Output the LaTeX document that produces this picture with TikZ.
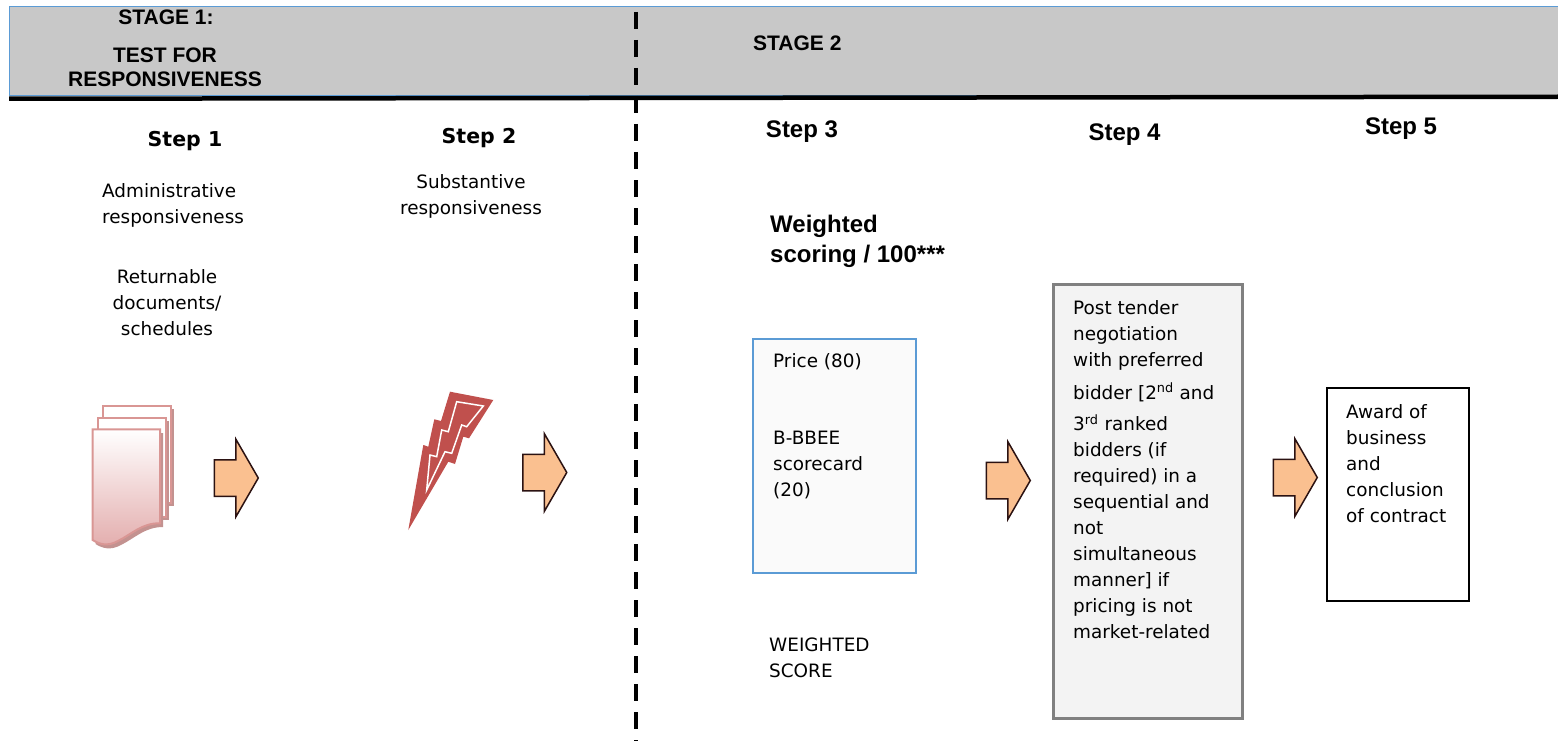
\documentclass[tikz,border=0pt]{standalone}
\usepackage{fontspec}
\setmainfont{Liberation Sans}
\newfontfamily\tahoma{DejaVu Sans}
\usetikzlibrary{shapes.arrows}
\definecolor{bandgray}{HTML}{C8C8C8}
\definecolor{bandblue}{HTML}{5B9BD5}
\definecolor{arrfill}{HTML}{FAC090}
\definecolor{arrdraw}{HTML}{2B1212}
\definecolor{boltred}{HTML}{C0504D}
\definecolor{docline}{HTML}{D99694}
\definecolor{docshadow}{HTML}{C39290}
\definecolor{docpink}{HTML}{E3ADAD}
\definecolor{boxgray}{HTML}{F3F3F3}
\definecolor{boxlight}{HTML}{FAFAFA}
\begin{document}
\begin{tikzpicture}[x=1pt,y=-1pt,
  hd/.style={font=\bfseries\fontsize{21}{24}\selectfont,align=center,inner sep=0pt},
  stepA/.style={font=\tahoma\bfseries\fontsize{20.5}{24}\selectfont,inner sep=0pt},
  stepB/.style={font=\bfseries\fontsize{24}{28}\selectfont,inner sep=0pt},
  txt/.style={font=\tahoma\fontsize{18.4}{26}\selectfont,inner sep=0pt},
  blk/.style={single arrow,draw=arrdraw,fill=arrfill,line width=1.5pt,minimum height=44pt,
    minimum width=0pt,single arrow head extend=20.5pt,single arrow head indent=0pt,
    single arrow tip angle=120,inner sep=0pt}]
\useasboundingbox (0,0) rectangle (1558,749);
% dải tiêu đề
\draw[fill=bandgray,draw=bandblue,line width=1pt] (9,7) rectangle (1562,96);
\fill (9,96.5) -- (1558,94.5) -- (1558,99) -- (9,101) -- cycle;
\coordinate (dtop) at (636,12);
\coordinate (dbot) at (636,741);
\draw[line width=3.5pt,dash pattern=on 17pt off 11pt] (dtop) -- (dbot); % đường chia
\node[hd] (st1) at (166,17) {STAGE 1:};
\node[hd] (st1b) at (165,67) {TEST FOR\\RESPONSIVENESS};
\node[hd,anchor=west] (st2) at (753,43) {STAGE 2};
% các bước
\node[stepA] (s1) at (185,141) {Step 1};
\node[stepA] (s2) at (479,138) {Step 2};
\node[stepB] (s3) at (802,132) {Step 3};
\node[stepB] (s4) at (1124.5,135) {Step 4};
\node[stepB] (s5) at (1401,129) {Step 5};
\node[txt,align=left,anchor=west] (adm) at (102,205.5) {Administrative\\responsiveness};
\node[txt,align=center] (ret) at (167,303) {Returnable\\documents/\\schedules};
\node[txt,align=center] (sub) at (471,196) {Substantive\\responsiveness};
\node[font=\bfseries\fontsize{24}{30}\selectfont,align=left,anchor=west,inner sep=0pt] (wsc) at (770,241) {Weighted\\scoring / 100***};
% hộp
\node[draw=bandblue,line width=2pt,fill=boxlight,minimum width=163pt,minimum height=234pt,anchor=north west] (price) at (752,338) {};
\node[txt,anchor=west] (pr) at (773,362) {Price (80)};
\node[txt,align=left,anchor=west] (bb) at (773,465.5) {B-BBEE\\scorecard\\(20)};
\node[txt,align=left,anchor=west] (ws) at (769,658) {WEIGHTED\\SCORE};
\node[draw=gray,line width=2.5pt,fill=boxgray,minimum width=189pt,minimum height=434pt,anchor=north west] (post) at (1052,283) {};
\node[txt,align=left,anchor=north west] (postt) at (1073,300.5) {Post tender\\negotiation\\with preferred\\[6.5pt]
  bidder [2\textsuperscript{nd} and\\[5.5pt]3\textsuperscript{rd} ranked\\bidders (if\\required) in a\\sequential and\\not\\simultaneous\\manner] if\\pricing is not\\market-related};
\node[draw=black,line width=2pt,fill=white,minimum width=142pt,minimum height=213pt,anchor=north west] (award) at (1326,387) {};
\node[txt,align=left,anchor=north west] (awt) at (1346,404) {Award of\\business\\and\\conclusion\\of contract};
% mũi tên khối
\node[blk] (a1) at (231,478) {\rule{0pt}{35pt}};
\node[blk] (a2) at (539.5,472.5) {\rule{0pt}{35pt}};
\node[blk] (a3) at (1003,480.5) {\rule{0pt}{35pt}};
\node[blk] (a4) at (1290,477.5) {\rule{0pt}{35pt}};
% biểu tượng tài liệu
\fill[docshadow] (105.5,409) rectangle (173.5,506);
\filldraw[fill=white,draw=docline,line width=2pt] (102.7,406) rectangle (170.7,503);
\fill[docshadow] (101,420.5) rectangle (169,519.5);
\filldraw[fill=white,draw=docline,line width=2pt] (98,417.7) rectangle (166,516.7);
\fill[docshadow] (95.5,433) -- (163,433) -- (163,527) .. controls (145,527) and (135,538) .. (121,545) .. controls (110,551) and (102,548) .. (95.5,544) -- cycle;
\path[draw=docline,line width=2pt,top color=white,bottom color=docpink] (92.7,429.3) -- (160,429.3) -- (160,523.3) .. controls (142,523) and (132,534) .. (118,541) .. controls (107,547) and (99,544) .. (92.7,540) -- cycle;
% tia chớp
\fill[boltred] (450,391.7) -- (493.3,400) -- (469,438.3) -- (463.3,436.7) -- (455,464) -- (448.3,461.7) -- (408.3,530) -- (423.3,445) -- (428.3,446.7) -- (434.3,419.3) -- (441,421) -- cycle;
\draw[white,line width=1.5pt] (456.7,401.7) -- (483.3,406) -- (466.7,426.7) -- (461.7,425) -- (451.7,453.3) -- (445,451.7) -- (426.7,490) -- (430,455) -- (436.7,456.7) -- (441.7,430) -- (448.3,431.7) -- cycle;
\end{tikzpicture}
\end{document}
